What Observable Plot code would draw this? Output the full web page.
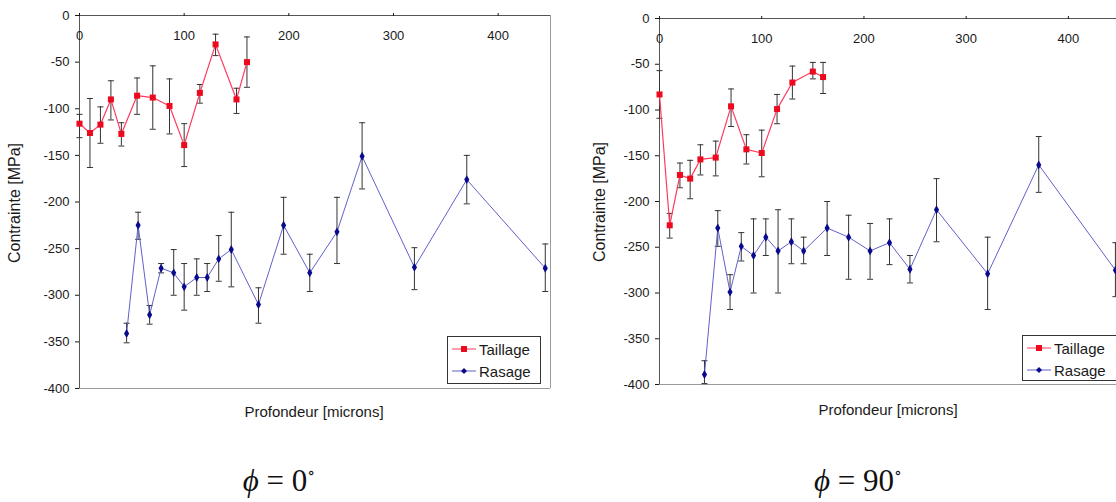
<!DOCTYPE html>
<html>
<head>
<meta charset="utf-8">
<script src="https://cdn.jsdelivr.net/npm/d3@7"></script>
<script src="https://cdn.jsdelivr.net/npm/@observablehq/plot@0.6"></script>
<style>
  html, body { margin: 0; padding: 0; background: #fff; overflow: hidden; }
  #wrap { position: relative; width: 1116px; height: 502px; overflow: hidden; font-family: "Liberation Sans", Arial, sans-serif; }
  .panel { position: absolute; top: 0; }
  .ytitle { position: absolute; font-size: 16px; color: #1a1a1a; transform: translate(-50%, -50%) rotate(-90deg); white-space: nowrap; }
  .xtitle { position: absolute; font-size: 15px; color: #1a1a1a; transform: translate(-50%, -50%); white-space: nowrap; }
  .legend { position: absolute; border: 1px solid #333; background: #fff; font-size: 15px; color: #1a1a1a; box-sizing: border-box; padding: 1px 0 0 4px; }
  .legend .row { display: flex; align-items: center; height: 22px; }
  .legend svg { margin-right: 3px; }
  .caption { position: absolute; font-family: "Liberation Serif", "DejaVu Serif", serif; font-size: 31px; line-height: 34px; color: #111; transform: translate(-50%, 0); white-space: nowrap; }
  .caption i { font-style: italic; }
  .caption sup { font-size: 16px; vertical-align: 13px; line-height: 0; }
</style>
</head>
<body>
<div id="wrap"></div>
<script>
// ---------- data: phi = 0 deg ----------
const taillage0X  = [0, 10, 20, 30, 40, 55, 70, 86, 100, 115, 130, 150, 160];
const taillage0Y  = [-116, -126, -117, -90, -127, -86, -88, -97, -139, -83, -31, -90, -50];
const taillage0Lo = [-131, -163, -137, -112, -140, -106, -122, -127, -162, -94, -43, -105, -77];
const taillage0Hi = [-106, -89, -98, -70, -115, -67, -54, -68, -116, -74, -20, -78, -23];

const rasage0X  = [45, 56, 67, 78, 90, 100, 112, 122, 133, 145, 171, 195, 220, 246, 270, 320, 370, 445];
const rasage0Y  = [-341, -225, -321, -271, -276, -291, -281, -281, -261, -251, -310, -225, -276, -232, -151, -270, -176, -271];
const rasage0Lo = [-351, -240, -331, -276, -300, -316, -300, -296, -285, -291, -330, -256, -296, -266, -186, -294, -202, -296];
const rasage0Hi = [-330, -211, -311, -266, -251, -266, -261, -266, -236, -211, -292, -195, -256, -195, -115, -249, -150, -245];

// ---------- data: phi = 90 deg ----------
const taillage90X  = [0, 10, 20, 30, 40, 55, 70, 85, 100, 115, 130, 150, 160];
const taillage90Y  = [-83, -226, -171, -175, -154, -152, -96, -143, -147, -99, -70, -58, -64];
const taillage90Lo = [-109, -240, -185, -197, -171, -172, -118, -159, -173, -115, -88, -66, -82];
const taillage90Hi = [-57, -213, -158, -155, -138, -134, -77, -127, -122, -83, -52, -48, -48];

const rasage90X  = [44, 57, 69, 80, 92, 104, 116, 129, 141, 164, 185, 206, 225, 245, 271, 321, 371, 446];
const rasage90Y  = [-389, -229, -299, -249, -259, -239, -254, -244, -254, -229, -239, -254, -245, -274, -209, -279, -160, -275];
const rasage90Lo = [-399, -249, -318, -265, -300, -259, -300, -268, -268, -259, -285, -285, -269, -289, -244, -318, -190, -304];
const rasage90Hi = [-374, -210, -280, -234, -219, -219, -209, -219, -239, -200, -215, -224, -219, -259, -175, -239, -129, -245];

// ---------- ticks & labels ----------
const xTicks = [0, 100, 200, 300, 400];
const yTicks = [0, -50, -100, -150, -200, -250, -300, -350, -400];
const xDomain = [0, 450];
const yDomain = [-400, 0];
const seriesNames = ["Taillage", "Rasage"];
const xTitle = "Profondeur [microns]";
const yTitle = "Contrainte [MPa]";
const captions = ["0", "90"];

const rows = (X, Y, Lo, Hi) => X.map((x, i) => ({x, y: Y[i], lo: Lo[i], hi: Hi[i]}));

const capSymbol = {
  draw(ctx, size) {
    const r = Math.sqrt(size / Math.PI);
    ctx.moveTo(-r, 0);
    ctx.lineTo(r, 0);
  }
};

const C = {
  tLine: "#ff3a5c", tDot: "#ee0a1e",
  rLine: "#6060cc", rDot: "#0a0a8c",
  err: "#333333"
};

function panel(t, r, o) {
  const errMarks = (data) => [
    Plot.ruleX(data, {x: "x", y1: "lo", y2: "hi", stroke: C.err, strokeWidth: 1}),
    Plot.dot(data, {x: "x", y: "lo", symbol: capSymbol, r: 3, stroke: C.err, strokeWidth: 1}),
    Plot.dot(data, {x: "x", y: "hi", symbol: capSymbol, r: 3, stroke: C.err, strokeWidth: 1})
  ];
  return Plot.plot({
    width: o.width, height: o.height,
    marginLeft: o.ml, marginRight: o.mr, marginTop: o.mt, marginBottom: o.mb,
    style: {background: "transparent", fontFamily: "Liberation Sans, Arial, sans-serif", fontSize: "13px", color: "#1a1a1a"},
    x: {domain: xDomain},
    y: {domain: yDomain},
    marks: [
      Plot.ruleY([yDomain[0]], {stroke: "#9a9a9a"}),
      Plot.ruleX([xDomain[1]], {stroke: "#9a9a9a"}),
      Plot.ruleY([0], {stroke: "#555"}),
      Plot.ruleX([0], {stroke: "#555"}),
      Plot.axisY({ticks: yTicks, tickSize: 4, tickPadding: 6, label: null, tickFormat: d => String(d), fontSize: 13, fill: "#1a1a1a"}),
      Plot.axisX({anchor: "top", ticks: xTicks, tickSize: 3, tickFormat: () => "", label: null}),
      Plot.text(xTicks, {x: d => d, y: d => 0, dy: 20, text: d => String(d), fontSize: 13, fill: "#1a1a1a"}),
      ...errMarks(r),
      ...errMarks(t),
      Plot.line(r, {x: "x", y: "y", stroke: C.rLine, strokeWidth: 1}),
      Plot.dot(r, {x: "x", y: "y", symbol: "diamond", r: 2.7, fill: C.rDot}),
      Plot.line(t, {x: "x", y: "y", stroke: C.tLine, strokeWidth: 1.2}),
      Plot.dot(t, {x: "x", y: "y", symbol: "square", r: 3.4, fill: C.tDot})
    ]
  });
}

const wrap = document.getElementById("wrap");

const configs = [
  {left: 0, t: rows(taillage0X, taillage0Y, taillage0Lo, taillage0Hi), r: rows(rasage0X, rasage0Y, rasage0Lo, rasage0Hi),
   o: {width: 560, height: 430, ml: 79, mr: 10, mt: 15, mb: 42},
   yt: {x: 15, y: 203}, xt: {x: 314, y: 411}, lg: {x: 447, y: 336, w: 94, h: 48}, cap: {x: 279, y: 464}},
  {left: 580, t: rows(taillage90X, taillage90Y, taillage90Lo, taillage90Hi), r: rows(rasage90X, rasage90Y, rasage90Lo, rasage90Hi),
   o: {width: 550, height: 430, ml: 79, mr: 11, mt: 18, mb: 46},
   yt: {x: 600, y: 202}, xt: {x: 888, y: 409}, lg: {x: 1022, y: 335, w: 96, h: 46}, cap: {x: 858, y: 464}}
];

configs.forEach((c, i) => {
  const svg = panel(c.t, c.r, c.o);
  svg.classList.add("panel");
  svg.style.left = c.left + "px";
  wrap.appendChild(svg);

  const yt = document.createElement("div");
  yt.className = "ytitle"; yt.textContent = yTitle;
  yt.style.left = c.yt.x + "px"; yt.style.top = c.yt.y + "px";
  wrap.appendChild(yt);

  const xt = document.createElement("div");
  xt.className = "xtitle"; xt.textContent = xTitle;
  xt.style.left = c.xt.x + "px"; xt.style.top = c.xt.y + "px";
  wrap.appendChild(xt);

  const lg = document.createElement("div");
  lg.className = "legend";
  lg.style.left = c.lg.x + "px"; lg.style.top = c.lg.y + "px";
  lg.style.width = c.lg.w + "px"; lg.style.height = c.lg.h + "px";
  const sw = (line, dot, shape) => {
    const m = shape === "square"
      ? `<rect x="9" y="4" width="6" height="6" fill="${dot}"/>`
      : `<path d="M12 4 L15 7 L12 10 L9 7 Z" fill="${dot}"/>`;
    return `<svg width="24" height="14"><line x1="0" y1="7" x2="24" y2="7" stroke="${line}" stroke-width="1"/>${m}</svg>`;
  };
  lg.innerHTML =
    `<div class="row">${sw(C.tLine, C.tDot, "square")}<span>${seriesNames[0]}</span></div>` +
    `<div class="row">${sw(C.rLine, C.rDot, "diamond")}<span>${seriesNames[1]}</span></div>`;
  wrap.appendChild(lg);

  const cap = document.createElement("div");
  cap.className = "caption";
  cap.style.left = c.cap.x + "px"; cap.style.top = c.cap.y + "px";
  cap.innerHTML = `<i>ϕ</i> = ${captions[i]}<sup>∘</sup>`;
  wrap.appendChild(cap);
});
</script>
</body>
</html>
